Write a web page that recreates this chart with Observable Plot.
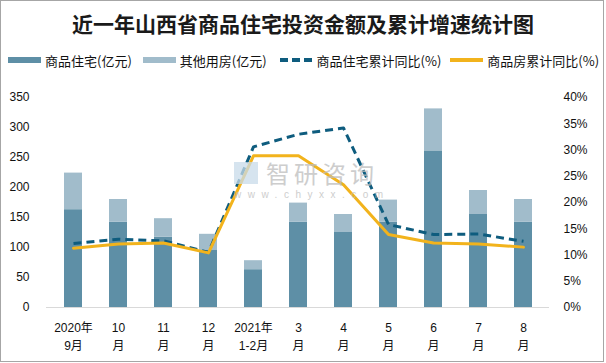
<!DOCTYPE html>
<html><head><meta charset="utf-8">
<script src="https://cdn.jsdelivr.net/npm/d3@7"></script>
<script src="https://cdn.jsdelivr.net/npm/@observablehq/plot@0.6"></script>
<style>
body{margin:0;background:#fff;}
#wrap{position:relative;width:606px;height:363px;overflow:hidden;font-family:"Liberation Sans","Noto Sans CJK SC",sans-serif;}
#frame{position:absolute;left:0;top:0;width:604px;height:362px;box-sizing:border-box;border:1px solid #a6a6a6;pointer-events:none;}
#title{height:46px;line-height:46px;text-align:center;font-family:"Noto Sans CJK SC",serif;font-weight:bold;font-size:21px;color:#1a1a1a;letter-spacing:0px;}
#legend{height:28px;display:flex;align-items:center;font-size:13px;color:#111;font-family:"Noto Sans CJK SC",sans-serif;}
.sw{display:inline-block;width:33px;height:6px;margin-right:4px;}
.item{display:flex;align-items:center;}
#wm{position:absolute;left:234px;top:160px;color:#bdbdbd;opacity:0.75;pointer-events:none;}
#wm1{font-size:24px;font-family:"Noto Sans CJK SC",sans-serif;letter-spacing:4px;line-height:26px;display:flex;align-items:center;}
#logo{display:inline-block;width:24px;height:22px;background:#c9dcea;margin-right:8px;}
#wm2{font-size:10px;letter-spacing:6.5px;line-height:12px;margin-top:3px;}
</style></head>
<body>
<div id="wrap">
<div id="title">近一年山西省商品住宅投资金额及累计增速统计图</div>
<div id="legend"></div>
<div id="chart"></div>
<div id="wm"><div id="wm1"><span id="logo"></span>智研咨询</div><div id="wm2">www.chyxx.com</div></div>
<div id="frame"></div>
</div>
<script>
const months = ["2020年\n9月","10\n月","11\n月","12\n月","2021年\n1-2月","3\n月","4\n月","5\n月","6\n月","7\n月","8\n月"];
const residential = [163,142,117,95,63,142,125,142,261,155,142];
const otherUse = [61,38,31,27,15,32,30,37,70,40,38];
const resGrowth = [12.2,13.0,12.7,10.5,30.6,33.0,34.2,15.8,13.9,14.0,12.6];
const allGrowth = [11.3,12.1,12.3,10.4,28.9,28.9,23.4,13.9,12.3,12.1,11.5];
const leftTicks = [0,50,100,150,200,250,300,350];
const rightTicks = [0,5,10,15,20,25,30,35,40];
const seriesNames = ["商品住宅(亿元)","其他用房(亿元)","商品住宅累计同比(%)","商品房累计同比(%)"];
const colors = ["#5e8fa6","#a1bccb","#0e5c7e","#f2b31c"];

const yMax = 350, pMax = 40;
const toY = p => p * yMax / pMax;

// legend
const lg = document.getElementById("legend");
const gaps = [8,11,13,9];
seriesNames.forEach((n,i)=>{
  const it = document.createElement("div"); it.className="item";
  it.style.marginLeft = gaps[i]+"px";
  const sw = document.createElement("span"); sw.className="sw";
  if(i===2){ sw.style.background="repeating-linear-gradient(90deg,"+colors[2]+" 0 8px,transparent 8px 12px)"; sw.style.height="4px";}
  else if(i===3){ sw.style.background=colors[3]; sw.style.height="4px";}
  else sw.style.background=colors[i];
  it.appendChild(sw);
  const t=document.createElement("span"); t.textContent=n; it.appendChild(t);
  lg.appendChild(it);
});

const bars = [];
months.forEach((m,i)=>{
  bars.push({month:m, type:seriesNames[0], value:residential[i]});
  bars.push({month:m, type:seriesNames[1], value:otherUse[i]});
});
const lineRes = months.map((m,i)=>({month:m, v:toY(resGrowth[i])}));
const lineAll = months.map((m,i)=>({month:m, v:toY(allGrowth[i])}));

const chart = Plot.plot({
  width:606, height:289,
  marginTop:23, marginBottom:56, marginLeft:46, marginRight:57,
  style:{fontFamily:"'Liberation Sans','Noto Sans CJK SC',sans-serif", fontSize:"12px", color:"#111", background:"transparent"},
  x:{domain:months, paddingInner:0.6, paddingOuter:0.3, label:null},
  y:{domain:[0,yMax], label:null},
  color:{domain:seriesNames.slice(0,2), range:colors.slice(0,2)},
  marks:[
    Plot.barY(bars,{x:"month", y:"value", fill:"type", order:seriesNames.slice(0,2)}),
    Plot.ruleY([0],{stroke:"#d9d9d9", strokeWidth:1.2}),
    Plot.line(lineRes,{x:"month", y:"v", stroke:colors[2], strokeWidth:3, strokeDasharray:"8,5", strokeLinecap:"butt"}),
    Plot.line(lineAll,{x:"month", y:"v", stroke:colors[3], strokeWidth:3}),
    Plot.axisY({anchor:"left", ticks:leftTicks, tickSize:0, tickPadding:17, label:null}),
    Plot.axisY({anchor:"right", ticks:rightTicks.map(toY), tickFormat:d=>Math.round(d*pMax/yMax)+"%", tickSize:0, tickPadding:14, label:null}),
    Plot.axisX({tickSize:0, tickPadding:12, label:null, lineHeight:1.5})
  ]
});
document.getElementById("chart").appendChild(chart);
</script>
</body></html>
